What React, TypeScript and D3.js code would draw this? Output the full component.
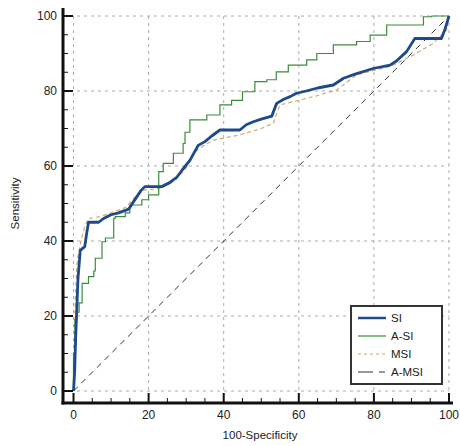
import React from "react";
import * as d3 from "d3";

const xTicks = [0, 20, 40, 60, 80, 100];
const yTicks = [0, 20, 40, 60, 80, 100];
const minorTicks = d3.range(0, 101, 5);

const siX = [0, 0.3, 0.6, 0.8, 1.2, 1.8, 3, 3.5, 4, 6.7, 8, 10, 12, 14.7, 16, 18, 19, 23.5, 25.5, 27.5, 29, 31, 33.2, 35, 36.8, 39, 44.3, 46, 47.9, 50, 52.8, 54.1, 56, 57.7, 59.4, 62, 65, 69.2, 71.9, 75, 79.8, 84.3, 86, 88.7, 90.9, 98, 99, 100];
const siY = [0, 5, 15, 20, 30, 37.5, 38.5, 42, 45, 45, 46, 47, 47.5, 48.5, 50.5, 53.5, 54.5, 54.5, 55.5, 57, 59, 61.5, 65.5, 66.5, 68, 69.6, 69.6, 71, 71.8, 72.5, 73.3, 76.7, 77.8, 78.5, 79.4, 80, 80.8, 81.6, 83.4, 84.5, 86, 86.9, 88, 90.5, 94, 94, 96.7, 100];

const asiX = [0, 0.4, 0.9, 1.5, 2.3, 2.3, 4, 5.4, 5.8, 7.6, 8.5, 10.7, 11.1, 13.8, 15, 18.2, 20, 22.7, 23.9, 26.6, 29.2, 29.7, 31, 35.5, 39, 42.1, 45, 48.3, 51.5, 54, 57.2, 62.1, 64.8, 69.2, 75.4, 79, 83.4, 87.4, 93.2, 95.4, 100];
const asiY = [0, 10, 19, 21, 23.5, 25, 28.7, 30.5, 32, 35.4, 39.8, 40.8, 46, 46.5, 47.5, 49.6, 51, 52.3, 58.5, 60.7, 63.4, 66, 69, 72.3, 73.6, 76.3, 77.5, 79.8, 82.5, 83, 85.1, 86.9, 88.3, 90, 92.3, 93.2, 94.9, 97.6, 97.6, 99.8, 100];

const msiX = [0, 0.2, 0.5, 1, 2, 3, 4, 7, 10, 14, 18, 23, 27, 30, 31.9, 34, 37.2, 44.3, 50, 53.2, 54.5, 55, 60.3, 65, 70.1, 75.4, 80, 84.3, 90.5, 95.8, 99.4, 100];
const msiY = [0, 10, 25, 35, 40, 44, 46, 46.5, 47.5, 49, 53.5, 54, 56, 59.5, 63.4, 65, 66.9, 68.3, 70, 71.4, 75, 76.3, 77.6, 78.8, 80.3, 84.3, 85.5, 86.5, 89.6, 92.7, 96.3, 100];

const amsiX = [0, 100];
const amsiY = [0, 100];

const legendLabels = ["SI", "A-SI", "MSI", "A-MSI"];

const W = 460, H = 446;
const x = d3.scaleLinear().domain([0, 100]).range([73.5, 449]);
const y = d3.scaleLinear().domain([0, 100]).range([391, 16]);
const axisX = 63; // y-axis line position
const axisY = 403; // x-axis line position

const zip = (a: number[], b: number[]) => a.map((v, i) => [v, b[i]] as [number, number]);

const lineLin = d3.line<[number, number]>().x(d => x(d[0])).y(d => y(d[1]));
const lineStep = d3.line<[number, number]>().x(d => x(d[0])).y(d => y(d[1])).curve(d3.curveStepBefore);

const font = "Arial, 'Liberation Sans', sans-serif";

const styles = [
  { stroke: "#1d4a8a", width: 2.8, dash: "" },
  { stroke: "#3c8c3c", width: 1.2, dash: "" },
  { stroke: "#d2a47a", width: 1.2, dash: "4,3" },
  { stroke: "#333", width: 1, dash: "7,5" },
];

export default function App() {
  return (
    <svg width={W} height={H} style={{ position: "absolute", left: 0, top: 0, background: "#fff" }} fontFamily={font}>
      {/* grid */}
      {xTicks.map(t => (
        <line key={"gx" + t} x1={x(t)} x2={x(t)} y1={y(100)} y2={axisY} stroke="#aaa" strokeWidth={1} strokeDasharray="3,4" />
      ))}
      {yTicks.map(t => (
        <line key={"gy" + t} x1={axisX} x2={x(100)} y1={y(t)} y2={y(t)} stroke="#aaa" strokeWidth={1} strokeDasharray="3,4" />
      ))}
      {/* diagonal */}
      <path d={lineLin(zip(amsiX, amsiY)) || ""} fill="none" stroke={styles[3].stroke} strokeWidth={1} strokeDasharray="6,5" />
      {/* series */}
      <path d={lineLin(zip(msiX, msiY)) || ""} fill="none" stroke={styles[2].stroke} strokeWidth={styles[2].width} strokeDasharray={styles[2].dash} />
      <path d={lineStep(zip(asiX, asiY)) || ""} fill="none" stroke={styles[1].stroke} strokeWidth={styles[1].width} />
      <path d={lineLin(zip(siX, siY)) || ""} fill="none" stroke={styles[0].stroke} strokeWidth={styles[0].width} strokeLinejoin="round" />
      {/* axes */}
      <line x1={axisX} x2={axisX} y1={8} y2={axisY + 1.5} stroke="#111" strokeWidth={3} />
      <line x1={axisX - 1.5} x2={453} y1={axisY} y2={axisY} stroke="#111" strokeWidth={3} />
      {minorTicks.map(t => {
        const major = t % 20 === 0;
        return (
          <g key={"t" + t}>
            <line x1={axisX} x2={axisX + (major ? 10 : 5)} y1={y(t)} y2={y(t)} stroke="#111" strokeWidth={major ? 2 : 1} />
            <line x1={x(t)} x2={x(t)} y1={axisY} y2={axisY - (major ? 10 : 5)} stroke="#111" strokeWidth={major ? 2 : 1} />
          </g>
        );
      })}
      {yTicks.map(t => (
        <text key={"yl" + t} x={57} y={y(t)} dy="0.35em" textAnchor="end" fontSize={12} fill="#222">{t}</text>
      ))}
      {xTicks.map(t => (
        <text key={"xl" + t} x={x(t)} y={419} textAnchor="middle" fontSize={12} fill="#222">{t}</text>
      ))}
      <text x={260} y={439} textAnchor="middle" fontSize={11.5} fill="#222">100-Specificity</text>
      <text transform={`translate(19,${y(50)}) rotate(-90)`} textAnchor="middle" fontSize={11.5} fill="#222">Sensitivity</text>
      {/* legend */}
      <rect x={351} y={306} width={91} height={78} fill="#fff" stroke="#333" strokeWidth={2} />
      {legendLabels.map((lab, i) => {
        const ly = 318 + i * 18;
        const s = styles[i];
        return (
          <g key={lab}>
            {i === 3 ? (
              <>
                <line x1={358} x2={373} y1={ly} y2={ly} stroke={s.stroke} strokeWidth={1} />
                <line x1={379} x2={385} y1={ly} y2={ly} stroke={s.stroke} strokeWidth={1} />
              </>
            ) : (
              <line x1={358} x2={386} y1={ly} y2={ly} stroke={s.stroke} strokeWidth={i === 0 ? 2.5 : 1.2} strokeDasharray={i === 2 ? "3,3" : ""} />
            )}
            <text x={391} y={ly} dy="0.35em" fontSize={11.5} fill="#222">{lab}</text>
          </g>
        );
      })}
    </svg>
  );
}
